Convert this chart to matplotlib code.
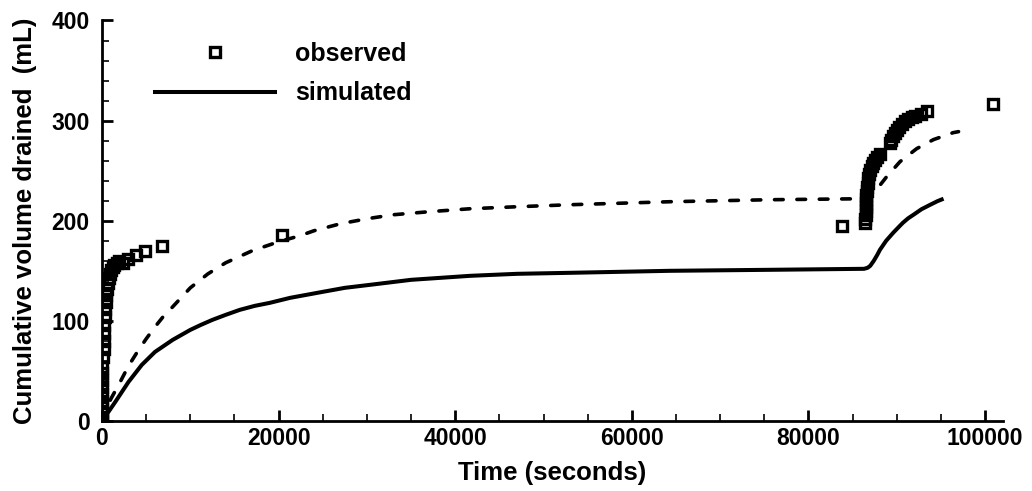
import numpy as np
import matplotlib
matplotlib.use('Agg')
import matplotlib.pyplot as plt
from matplotlib.lines import Line2D
from matplotlib.ticker import MultipleLocator

plt.rcParams['font.family'] = ['Liberation Sans', 'DejaVu Sans']
plt.rcParams['font.weight'] = 'bold'

# observed drainage (time in s, volume in mL)
obs_t = [0, 0, 0, 0, 0, 0, 0, 0, 0, 0,
         150, 170, 190, 220, 250, 290, 340, 400, 480, 560, 660, 780, 900,
         1050, 1200, 1400, 1650, 1950, 2400, 2950, 3800, 4850, 6750, 20400,
         83800,
         86450, 86460, 86470, 86480, 86490, 86500, 86520, 86550, 86600, 86650,
         86720, 86800, 86900, 87000, 87150, 87300, 87500, 87750, 88050,
         89200, 89400, 89600, 89800, 90000, 90250, 90550, 90900, 91300, 91700,
         92100, 92700, 93450,
         100900]
obs_v = [0, 3, 8, 14, 20, 27, 34, 41, 48, 54,
         64, 72, 80, 88, 96, 104, 112, 119, 126, 132, 138, 143, 147,
         151, 154, 156, 158, 160, 158, 162, 166, 170, 175, 186,
         195,
         198, 202, 206, 210, 214, 218, 222, 226, 230, 234,
         238, 243, 247, 251, 255, 258, 261, 264, 267,
         278, 281, 285, 288, 291, 294, 297, 300, 302, 304,
         305, 307, 310,
         317]

# simulated (solid)
sim_t = [0, 300, 800, 1500, 2400, 3000, 4500, 6000, 7000, 8000, 9000, 10000,
         11200, 12500, 14000, 15600, 17300, 19000, 21300, 25000, 27500, 30350,
         35000, 41700, 47000, 53000, 64300, 75600, 86300, 86700, 87000, 87400,
         87800, 88100, 88800, 89600, 90200, 90700, 91300, 91900, 92800, 93800,
         94600, 95300]
sim_v = [0, 4, 10, 19, 31, 39, 56, 69, 75, 81, 86, 91,
         96, 101, 106, 111, 115, 118, 123, 129, 133, 136,
         141, 145, 147, 148, 150, 151, 152, 153, 155, 160,
         166, 171, 180, 188, 193.5, 198, 202.5, 206, 211.5, 216,
         219.5, 222]

# second simulation (dashed)
sim2_t = [0, 300, 1000, 2000, 3000, 4000, 5000, 6000, 7000, 8000, 10000, 12000,
          14000, 17000, 20000, 22400, 24000, 27000, 30000, 33000, 37000, 41700,
          47000, 53000, 64300, 75600, 86300, 87000, 87700, 88860, 90370, 92260,
          94150, 96400, 97000]
sim2_v = [0, 8, 22, 38, 55, 69, 82, 94, 105, 114, 133, 147,
          158, 170, 179, 185, 190, 197, 202, 206, 209, 212,
          214, 216, 219, 221, 222, 225, 231, 244, 259, 272,
          281, 288, 289]

fig = plt.figure(figsize=(10.32, 4.91), dpi=100)
ax = fig.add_axes([102 / 1032, 1 - 421 / 491, 900.7 / 1032, 400.5 / 491])

mk = dict(ls='none', marker='s', ms=7, mew=2.4, mfc='none', mec='black')
ax.plot(obs_t, obs_v, **mk)
ax.plot(sim_t, sim_v, color='black', lw=2.9, solid_capstyle='butt')
ax.plot(sim2_t, sim2_v, color='black', lw=2.6, ls=(0, (2.4, 3.8)), dash_capstyle='round')

ax.set_xlim(0, 102000)
ax.set_ylim(0, 400)
ax.xaxis.set_major_locator(MultipleLocator(20000))
ax.xaxis.set_minor_locator(MultipleLocator(5000))
ax.yaxis.set_major_locator(MultipleLocator(100))
ax.yaxis.set_minor_locator(MultipleLocator(20))

for s in ['top', 'right']:
    ax.spines[s].set_visible(False)
for s in ['left', 'bottom']:
    ax.spines[s].set_linewidth(2)

ax.tick_params(which='major', direction='in', length=8, width=2, labelsize=16.5)
ax.tick_params(which='minor', direction='in', length=5, width=1.2)
ax.tick_params(axis='y', which='major', pad=9)
ax.tick_params(axis='x', which='major', pad=4)
for lab in ax.get_xticklabels() + ax.get_yticklabels():
    lab.set_fontweight('bold')

ax.set_xlabel('Time (seconds)', fontsize=18.5, fontweight='bold', labelpad=8)
ax.set_ylabel('Cumulative volume drained  (mL)', fontsize=18.5, fontweight='bold', labelpad=10)

handles = [Line2D([], [], **mk),
           Line2D([], [], color='black', lw=2.9)]
ax.legend(handles, ['observed', 'simulated'], loc='upper left',
          bbox_to_anchor=(155 / 1032, 1 - 42 / 491), bbox_transform=fig.transFigure,
          frameon=False, borderpad=0, borderaxespad=0, handlelength=4.8,
          handletextpad=0.8, labelspacing=0.62, prop={'size': 18, 'weight': 'bold'})

fig.savefig('out.png', dpi=100)
